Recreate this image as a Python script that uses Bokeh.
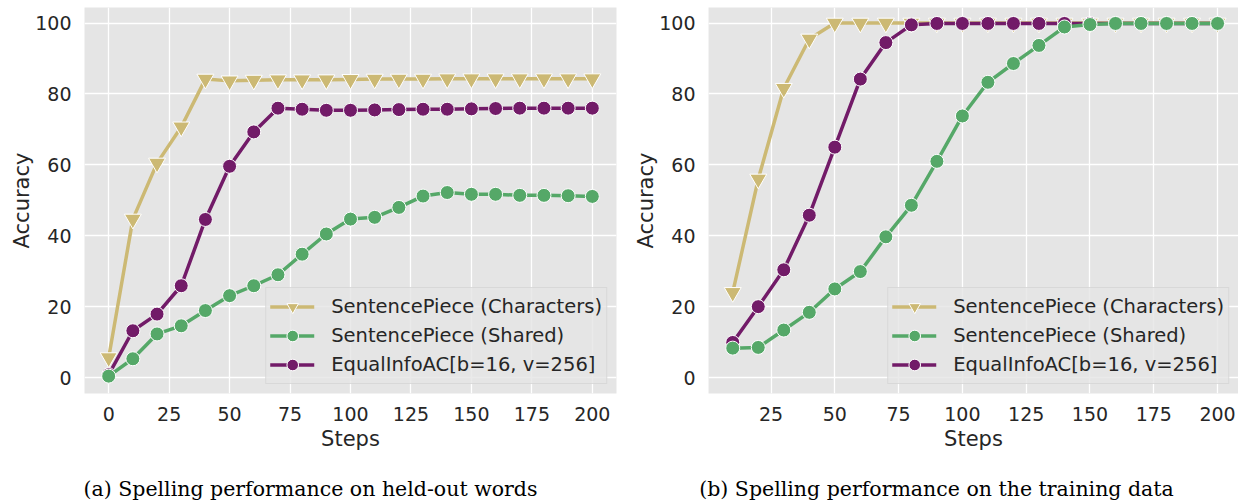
from bokeh.plotting import figure
from bokeh.layouts import row, column
from bokeh.models import (Range1d, FixedTicker, Legend, LegendItem)
from bokeh.core.properties import value
from bokeh.embed import file_html
from bokeh.resources import INLINE

# ---------------- data ----------------
steps_a = [0, 10, 20, 30, 40, 50, 60, 70, 80, 90, 100, 110, 120, 130, 140, 150, 160, 170, 180, 190, 200]
chars_a = [5.6, 44.7, 60.5, 70.7, 84.2, 83.7, 83.9, 84.0, 84.0, 84.0, 84.1, 84.2, 84.2, 84.2, 84.3, 84.3, 84.3, 84.3, 84.3, 84.3, 84.3]
shared_a = [0.4, 5.3, 12.3, 14.6, 18.9, 23.1, 25.9, 29.0, 34.8, 40.5, 44.7, 45.2, 48.0, 51.2, 52.2, 51.7, 51.7, 51.4, 51.4, 51.3, 51.1]
eqinfo_a = [0.8, 13.2, 17.9, 25.9, 44.6, 59.6, 69.3, 76.0, 75.7, 75.4, 75.4, 75.5, 75.6, 75.7, 75.7, 75.8, 75.9, 76.0, 76.0, 76.0, 76.0]

steps_b = [10, 20, 30, 40, 50, 60, 70, 80, 90, 100, 110, 120, 130, 140, 150, 160, 170, 180, 190, 200]
chars_b = [24.0, 56.0, 81.6, 95.5, 100.0, 100.0, 100.0, 100.0, 100.0, 100.0, 100.0, 100.0, 100.0, 100.0, 100.0, 100.0, 100.0, 100.0, 100.0, 100.0]
shared_b = [8.3, 8.5, 13.4, 18.4, 25.0, 29.9, 39.7, 48.6, 61.0, 73.8, 83.3, 88.6, 93.7, 98.9, 99.6, 99.9, 99.9, 99.9, 99.9, 99.9]
eqinfo_b = [9.9, 20.0, 30.4, 45.8, 65.0, 84.2, 94.5, 99.5, 99.9, 99.9, 99.9, 99.9, 99.9, 99.9, 99.9, 99.9, 99.9, 99.9, 99.9, 99.9]

series_names = ["SentencePiece (Characters)", "SentencePiece (Shared)", "EqualInfoAC[b=16, v=256]"]
x_ticks = [0, 25, 50, 75, 100, 125, 150, 175, 200]
y_ticks = [0, 20, 40, 60, 80, 100]
captions = ["(a) Spelling performance on held-out words", "(b) Spelling performance on the training data"]

# ---------------- style ----------------
C_CHARS = "#CCB974"
C_SHARED = "#55A868"
C_EQ = "#721B68"
BG = "#E5E5E5"
TXT = "#262626"
FONT = "DejaVu Sans"
MAIN_H = 457
CAP_H = 45


def make_panel(xs, chars, shared, eqinfo, x_range, width, border_left, border_right):
    p = figure(width=width, height=MAIN_H, output_backend="svg", toolbar_location=None,
               x_range=Range1d(*x_range), y_range=Range1d(-4.5, 104.4),
               min_border_left=border_left, min_border_right=border_right,
               min_border_top=7, min_border_bottom=64)
    p.background_fill_color = BG
    p.border_fill_color = "white"
    p.outline_line_color = None

    for ax in (p.xaxis[0], p.yaxis[0]):
        ax.axis_line_color = None
        ax.major_tick_line_color = None
        ax.minor_tick_line_color = None
        ax.major_tick_out = 0
        ax.major_tick_in = 0
        ax.minor_tick_out = 0
        ax.minor_tick_in = 0
        ax.major_label_text_font = FONT
        ax.major_label_text_font_size = "19px"
        ax.major_label_text_color = TXT
        ax.axis_label_text_font = FONT
        ax.axis_label_text_font_size = "21px"
        ax.axis_label_text_font_style = "normal"
        ax.axis_label_text_color = TXT
    p.xaxis.ticker = FixedTicker(ticks=x_ticks)
    p.yaxis.ticker = FixedTicker(ticks=y_ticks)
    p.xaxis.axis_label = "Steps"
    p.yaxis.axis_label = "Accuracy"
    p.xaxis.major_label_standoff = 13
    p.yaxis.major_label_standoff = 13
    p.xaxis.axis_label_standoff = 3
    p.yaxis.axis_label_standoff = -2

    p.xgrid.grid_line_color = "white"
    p.ygrid.grid_line_color = "white"
    p.xgrid.grid_line_width = 1.3
    p.ygrid.grid_line_width = 1.3

    lw = 3.5
    # drawing order: characters, equalinfo, shared
    l_c = p.line(xs, chars, line_color=C_CHARS, line_width=lw, line_join="round", line_cap="round")
    s_c = p.scatter(xs, chars, marker="inverted_triangle", size=17, fill_color=C_CHARS,
                    line_color="white", line_width=1)
    l_e = p.line(xs, eqinfo, line_color=C_EQ, line_width=lw, line_join="round", line_cap="round")
    s_e = p.scatter(xs, eqinfo, marker="circle", size=14, fill_color=C_EQ,
                    line_color="white", line_width=1)
    l_s = p.line(xs, shared, line_color=C_SHARED, line_width=lw, line_join="round", line_cap="round")
    s_s = p.scatter(xs, shared, marker="circle", size=14, fill_color=C_SHARED,
                    line_color="white", line_width=1)

    legend = Legend(items=[
        LegendItem(label=series_names[0], renderers=[l_c, s_c]),
        LegendItem(label=series_names[1], renderers=[l_s, s_s]),
        LegendItem(label=series_names[2], renderers=[l_e, s_e]),
    ], location="bottom_right")
    legend.label_text_font = FONT
    legend.label_text_font_size = "19.5px"
    legend.label_text_color = TXT
    legend.glyph_width = 44
    legend.glyph_height = 29
    legend.label_height = 29
    legend.spacing = 0
    legend.padding = 4
    legend.margin = 9
    legend.label_standoff = 17
    legend.background_fill_color = BG
    legend.background_fill_alpha = 0.8
    legend.border_line_color = "#CCCCCC"
    legend.border_line_width = 1
    p.add_layout(legend)
    return p


def make_caption(text, width, center_x):
    c = figure(width=width, height=CAP_H, output_backend="svg", toolbar_location=None,
               x_range=Range1d(0, width), y_range=Range1d(0, CAP_H),
               x_axis_location=None, y_axis_location=None,
               min_border_left=0, min_border_right=0, min_border_top=0, min_border_bottom=0)
    c.grid.visible = False
    c.outline_line_color = None
    c.background_fill_color = "white"
    c.border_fill_color = "white"
    c.text(x=[center_x], y=[14], text=[text], text_align="center", text_baseline="middle",
           text_font=value("DejaVu Serif"), text_font_size="20.5px", text_color="black")
    return c


p1 = make_panel(steps_a, chars_a, shared_a, eqinfo_a, (-10, 210), 630, 84, 14)
p2 = make_panel(steps_b, chars_b, shared_b, eqinfo_b, (0.5, 208.2), 608, 78, 0)
c1 = make_caption(captions[0], 630, 310)
c2 = make_caption(captions[1], 608, 306)

layout = column(row(p1, p2), row(c1, c2))
open("out.html", "w").write(file_html(layout, INLINE))
